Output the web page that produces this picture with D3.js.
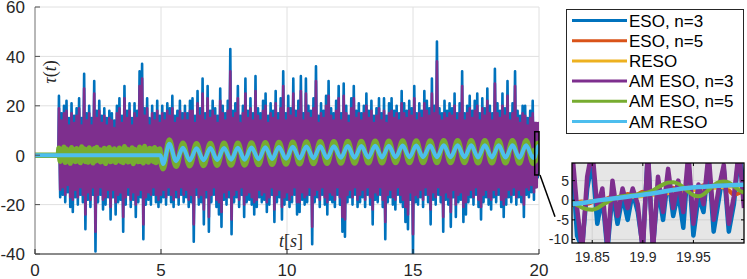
<!DOCTYPE html>
<html>
<head>
<meta charset="utf-8">
<script src="https://cdn.jsdelivr.net/npm/d3@7"></script>
<style>
  body { margin: 0; background: #fff; }
  svg { display: block; font-family: "Liberation Sans", Arial, sans-serif; }
</style>
</head>
<body>
<div id="chart"></div>
<script>
// Observer torques tau(t), main view 0..20 s plus zoom on 19.83..20 s

const seriesNames = ['ESO, n=3', 'ESO, n=5', 'RESO', 'AM ESO, n=3', 'AM ESO, n=5', 'AM RESO'];
const seriesColors = ['#0072BD', '#D95319', '#EDB120', '#7E2F8E', '#77AC30', '#4DBEEE'];

const xTicks = [0, 5, 10, 15, 20];
const yTicks = [-40, -20, 0, 20, 40, 60];
const insetXTicks = [19.85, 19.9, 19.95];
const insetYTicks = [-10, -5, 0, 5];

// noise starts at ~0.93 s; peaks (hi) at t, troughs (lo) at t + 0.05
const noiseOnset = 0.93;
const noiseStart = 0.95;
const noiseStep = 0.1;

const blueHi = [
  24, 17, 20, 22, 15, 21, 16, 19, 23, 15,
  33, 17, 20, 15, 30, 18, 22, 16, 19, 15,
  18, 17, 14, 20, 23, 16, 28, 18, 21, 15,
  21, 18, 34, 37, 19, 23, 15, 20, 17, 22,
  16, 20, 17, 21, 19, 24, 16, 18, 22, 17,
  20, 17, 22, 23, 16, 26, 19, 31, 17, 28,
  18, 22, 19, 16, 27, 20, 17, 22, 43, 18,
  21, 28, 16, 20, 31, 18, 23, 17, 32, 19,
  17, 22, 25, 16, 21, 18, 26, 17, 23, 34,
  17, 24, 19, 31, 18, 22, 32, 17, 31, 20,
  18, 23, 36, 16, 21, 18, 24, 30, 19, 17,
  22, 28, 17, 29, 20, 16, 23, 28, 18, 21,
  17, 20, 25, 18, 22, 16, 19, 23, 17, 23,
  16, 21, 23, 18, 20, 17, 26, 21, 18, 22,
  19, 28, 17, 21, 18, 26, 22, 19, 31, 20,
  46, 19, 17, 22, 18, 21, 19, 25, 17, 21,
  34, 17, 20, 24, 18, 22, 25, 17, 23, 19,
  27, 20, 17, 35, 21, 18, 25, 19, 30, 17,
  21, 34, 18, 16, 20, 20, 15, 18, 22
];
const blueLo = [
  -17, -16, -19, -15, -21, -23, -17, -20, -16, -19,
  -30, -18, -21, -16, -39, -19, -16, -22, -20, -17,
  -26, -17, -24, -19, -18, -31, -20, -16, -21, -18,
  -25, -19, -17, -34, -20, -18, -20, -16, -19, -21,
  -19, -17, -20, -16, -19, -21, -17, -20, -16, -19,
  -17, -21, -19, -35, -16, -20, -19, -28, -17, -31,
  -19, -16, -21, -24, -29, -18, -20, -17, -32, -19,
  -17, -21, -16, -25, -19, -18, -20, -24, -21, -17,
  -19, -18, -23, -20, -16, -27, -19, -17, -26, -20,
  -18, -21, -19, -16, -24, -23, -18, -20, -19, -16,
  -36, -19, -17, -21, -16, -20, -24, -18, -19, -21,
  -16, -20, -31, -33, -19, -17, -20, -16, -21, -19,
  -17, -21, -16, -20, -28, -18, -19, -16, -21, -34,
  -19, -17, -20, -22, -16, -19, -21, -27, -30, -18,
  -40, -19, -20, -17, -21, -16, -19, -28, -18, -20,
  -16, -19, -31, -18, -20, -29, -17, -25, -19, -18,
  -27, -24, -19, -17, -20, -16, -21, -26, -19, -17,
  -20, -22, -17, -19, -16, -21, -25, -20, -17, -19,
  -16, -20, -17, -19, -25, -16, -17, -15, -18
];
const purpleHi = [
  19, 14, 17, 18, 12, 17, 13, 16, 19, 12,
  27, 14, 17, 12, 25, 15, 18, 13, 16, 12,
  15, 14, 11, 17, 19, 13, 23, 15, 18, 12,
  17, 15, 28, 31, 16, 19, 12, 17, 14, 18,
  13, 17, 14, 18, 16, 19, 13, 15, 18, 14,
  17, 14, 18, 18, 13, 21, 16, 25, 14, 23,
  15, 18, 16, 13, 22, 17, 14, 18, 34, 15,
  17, 23, 13, 17, 25, 15, 19, 14, 26, 16,
  14, 18, 20, 13, 17, 15, 21, 14, 19, 28,
  14, 19, 16, 25, 15, 18, 26, 14, 25, 17,
  15, 19, 30, 13, 17, 15, 20, 24, 16, 14,
  18, 23, 14, 24, 17, 13, 19, 23, 15, 17,
  14, 17, 20, 15, 18, 13, 16, 19, 14, 18,
  13, 17, 18, 15, 17, 14, 21, 17, 15, 18,
  16, 23, 14, 17, 15, 21, 18, 16, 25, 17,
  38, 16, 14, 17, 15, 17, 16, 20, 14, 17,
  28, 14, 17, 19, 15, 18, 20, 14, 19, 16,
  22, 17, 14, 29, 17, 15, 20, 16, 24, 14,
  17, 28, 15, 13, 17, 16, 12, 15, 17
];
const purpleLo = [
  -14, -13, -16, -12, -17, -18, -14, -17, -13, -16,
  -24, -15, -18, -13, -31, -16, -13, -18, -17, -14,
  -21, -14, -19, -16, -15, -25, -17, -13, -18, -15,
  -20, -16, -14, -28, -17, -15, -16, -13, -16, -18,
  -16, -14, -17, -13, -16, -18, -14, -17, -13, -16,
  -14, -18, -16, -28, -13, -17, -16, -22, -14, -25,
  -16, -13, -18, -19, -23, -15, -17, -14, -26, -16,
  -14, -18, -13, -20, -16, -15, -17, -19, -18, -14,
  -16, -15, -19, -17, -13, -22, -16, -14, -21, -17,
  -15, -18, -16, -13, -19, -19, -15, -17, -16, -13,
  -29, -16, -14, -18, -13, -17, -19, -15, -16, -18,
  -13, -17, -25, -26, -16, -14, -17, -13, -18, -16,
  -14, -18, -13, -17, -22, -15, -16, -13, -18, -27,
  -16, -14, -17, -18, -13, -16, -18, -21, -24, -15,
  -32, -16, -17, -14, -18, -13, -16, -22, -15, -17,
  -13, -16, -25, -15, -17, -23, -14, -20, -16, -15,
  -21, -19, -16, -14, -17, -13, -18, -21, -16, -14,
  -17, -18, -14, -16, -13, -18, -20, -17, -14, -16,
  -13, -17, -14, -16, -20, -13, -14, -12, -15
];
const greenHi = [
  2.8, 2.0, 3.2, 2.4, 1.8, 3.0, 2.2, 2.6, 1.9, 3.3,
  2.5, 2.1, 2.9, 1.7, 2.6, 3.1, 2.2, 1.9, 2.7, 2.3,
  3.0, 2.0, 2.5, 1.8, 2.8, 2.2, 3.4, 2.4, 2.0, 2.9,
  2.3, 1.9, 3.2, 2.6, 3.5, 2.1, 2.7, 2.4, 3.0, 2.2, 2.5
];
const greenLo = [
  -2.4, -1.8, -2.9, -2.1, -3.2, -1.9, -2.6, -2.2, -3.0, -1.7,
  -2.5, -2.8, -2.0, -3.1, -2.3, -1.9, -2.7, -2.4, -3.3, -2.0,
  -2.6, -2.2, -2.9, -1.8, -2.5, -3.0, -2.1, -2.7, -2.3, -3.4,
  -2.0, -2.6, -2.4, -3.1, -2.2, -2.8, -1.9, -2.5, -3.0, -2.3, -2.6
];

// slow oscillation after 5 s: alternating troughs / peaks
const waveT = [
  5.08, 5.33, 5.60, 5.87, 6.14, 6.41, 6.69, 6.96, 7.23, 7.50,
  7.78, 8.05, 8.32, 8.59, 8.87, 9.14, 9.41, 9.68, 9.96, 10.23,
  10.50, 10.77, 11.05, 11.32, 11.59, 11.86, 12.14, 12.41, 12.68, 12.95,
  13.23, 13.50, 13.77, 14.04, 14.31, 14.59, 14.86, 15.13, 15.40, 15.68,
  15.95, 16.22, 16.49, 16.77, 17.04, 17.31, 17.58, 17.85, 18.13, 18.40,
  18.67, 18.95, 19.22, 19.49, 19.77
];
const cyanWaveV = [
  -3.6, 4.6, -2.4, 3.0, -2.1, 2.8, -2.0, 2.9, -1.9, 2.9,
  -1.8, 3.0, -1.8, 3.1, -1.6, 3.2, -1.5, 3.3, -1.4, 3.4,
  -1.3, 3.5, -1.2, 3.6, -1.1, 3.6, -1.0, 3.7, -1.0, 3.7,
  -0.9, 3.8, -0.9, 3.8, -0.8, 3.9, -0.8, 3.9, -0.8, 3.9,
  -0.8, 4.0, -0.8, 4.0, -0.8, 4.0, -0.9, 4.0, -0.9, 4.0,
  -0.9, 4.0, -1.0, 4.0, -1.1
];
const greenWaveV = [
  -5.5, 6.2, -4.5, 4.8, -4.3, 4.6, -4.2, 4.7, -4.1, 4.8,
  -4.0, 4.8, -4.0, 4.9, -3.8, 5.0, -3.7, 5.1, -3.6, 5.2,
  -3.5, 5.3, -3.4, 5.4, -3.3, 5.4, -3.2, 5.5, -3.2, 5.5,
  -3.1, 5.6, -3.1, 5.6, -3.0, 5.7, -3.0, 5.7, -3.0, 5.7,
  -3.0, 5.8, -3.0, 5.8, -3.0, 5.8, -3.1, 5.8, -3.1, 5.8,
  -3.1, 5.8, -3.2, 5.8, -3.3
];
const cyanInsetT = [19.83, 19.86, 19.90, 19.944, 20.0];
const cyanInsetV = [-0.9, 0.1, 1.4, 3.1, 3.95];

// fine samples of the last 0.2 s
const fineStart = 19.805;
const fineStep = 0.005;
const blueFine = [
  10, -12, 12, -8, 2, 11, -9, -12, 3, 10,
  -6, 1, -13, 2, -6, 1, -5, 2, -3, -12,
  12, -12, 3, -5, 6, -4, 2, -7, 10, -9,
  1, -3, 10, -8, 0, 8, -8, -1, 12, 4
];
const purpleFine = [
  8, -10, 11, -6, 4, 13, -2, -13, 6, 13,
  -2, 3, -12, 5, -4, 3, -2, 3, -1, -13,
  13, -13, 6, -3, 8, -2, 5, -3, 12, -6,
  4, -1, 12, -5, 3, 9, -6, 1, 13, -2
];
const greenFine = [
  2.0, 0.5, -0.5, 0.0, -0.5, -0.6, -1.2, -1.9, -2.3, -2.4,
  -2.0, -1.2, -0.5, 0.3, 0.8, 1.0, 1.2, 1.3, 1.5, 1.8,
  2.0, 2.5, 3.3, 4.0, 4.5, 4.6, 4.2, 3.3, 2.2, 1.3,
  1.0, 1.5, 2.6, 3.8, 4.6, 4.8, 4.5, 3.6, 2.6, 1.9
];
const orangeFine = [
  0.0, -1.0, 0.5, -0.8, -1.5, -1.2, -0.6, -0.3, -0.9, -0.5,
  0.1, -0.2, 0.5, 0.9, 0.4, 1.0, 1.6, 1.1, 1.5, 2.2,
  1.6, 2.0, 2.7, 2.1, 2.5, 3.2, 2.6, 2.9, 3.5, 2.8,
  3.0, 3.8, 3.1, 3.3, 4.0, 3.2, 2.5, 1.4, 1.8, 2.6
];
const yellowFine = [
  -1.1, -1.0, -0.9, -0.9, -0.8, -0.7, -0.6, -0.5, -0.3, -0.2,
  -0.1, 0.0, 0.2, 0.3, 0.4, 0.5, 0.7, 0.8, 0.9, 1.1,
  1.2, 1.4, 1.5, 1.7, 1.8, 2.0, 2.1, 2.3, 2.5, 2.6,
  2.8, 2.9, 3.0, 3.2, 3.3, 3.4, 3.5, 3.6, 3.7, 3.8
];

// zoom window shown in the inset / marked on the main plot
const zoomT = [19.83, 20];
const zoomY = [-8, 9.5];

// ---------- build point lists ----------
function zigzag(hi, lo, t0, step) {
  const pts = [];
  const n = Math.min(hi.length, lo.length);
  for (let i = 0; i < n; i++) {
    pts.push([t0 + i * step, hi[i]]);
    pts.push([t0 + i * step + step / 2, lo[i]]);
  }
  return pts;
}
function fine(vals) {
  return vals.map((v, k) => [fineStart + k * fineStep, v]);
}
function pairs(ts, vs) {
  const n = Math.min(ts.length, vs.length);
  return ts.slice(0, n).map((t, i) => [t, vs[i]]);
}

const quiet = [[0, 0], [noiseOnset, 0]];
const series = [
  { pts: [...quiet, ...zigzag(blueHi, blueLo, noiseStart, noiseStep), ...fine(blueFine)], curve: d3.curveLinear },
  { pts: fine(orangeFine), curve: d3.curveMonotoneX },
  { pts: fine(yellowFine), curve: d3.curveMonotoneX },
  { pts: [...quiet, ...zigzag(purpleHi, purpleLo, noiseStart, noiseStep), ...fine(purpleFine)], curve: d3.curveLinear },
  { pts: [...quiet, ...zigzag(greenHi, greenLo, noiseStart, noiseStep), ...pairs(waveT, greenWaveV), ...fine(greenFine)], curve: d3.curveMonotoneX },
  { pts: [[0, 0], [4.98, 0], ...pairs(waveT, cyanWaveV), ...pairs(cyanInsetT, cyanInsetV)], curve: d3.curveMonotoneX }
];
const mainWidths = [2.6, 2.6, 2.6, 2.6, 5.5, 4];
const insetWidths = [4.5, 4, 4, 4.5, 4, 4.5];

// ---------- svg ----------
const W = 747, H = 279;
const svg = d3.select('#chart').append('svg')
  .attr('width', W)
  .attr('height', H);

const x = d3.scaleLinear().domain([0, 20]).range([35, 539]);
const y = d3.scaleLinear().domain([-40, 60]).range([254, 7]);

const defs = svg.append('defs');
defs.append('clipPath').attr('id', 'clipMain')
  .append('rect')
  .attr('x', x(0)).attr('y', y(60))
  .attr('width', x(20) - x(0)).attr('height', y(-40) - y(60));

// grid
const grid = svg.append('g');
xTicks.filter(d => d > 0).forEach(d => {
  grid.append('line')
    .attr('x1', x(d)).attr('x2', x(d))
    .attr('y1', y(60)).attr('y2', y(-40))
    .attr('stroke', '#e0e0e0').attr('stroke-width', 1);
});
yTicks.forEach(d => {
  grid.append('line')
    .attr('x1', x(0)).attr('x2', x(20))
    .attr('y1', y(d)).attr('y2', y(d))
    .attr('stroke', '#e0e0e0').attr('stroke-width', 1);
});

// lines
const plot = svg.append('g').attr('clip-path', 'url(#clipMain)');
series.forEach((s, i) => {
  const line = d3.line().x(d => x(d[0])).y(d => y(d[1])).curve(s.curve);
  plot.append('path')
    .datum(s.pts)
    .attr('fill', 'none')
    .attr('stroke', seriesColors[i])
    .attr('stroke-width', mainWidths[i])
    .attr('stroke-linejoin', 'round')
    .attr('d', line);
});

// axes
svg.append('line')
  .attr('x1', x(0)).attr('x2', x(0)).attr('y1', y(60)).attr('y2', y(-40))
  .attr('stroke', '#707070').attr('stroke-width', 1);
svg.append('line')
  .attr('x1', x(0)).attr('x2', x(20)).attr('y1', y(-40)).attr('y2', y(-40))
  .attr('stroke', '#262626').attr('stroke-width', 1.2);

xTicks.forEach(d => {
  svg.append('line')
    .attr('x1', x(d)).attr('x2', x(d))
    .attr('y1', y(-40)).attr('y2', y(-40) - 5)
    .attr('stroke', '#262626');
  svg.append('text')
    .attr('x', x(d)).attr('y', 276)
    .attr('text-anchor', 'middle')
    .attr('font-size', '17px')
    .attr('fill', '#262626')
    .text(String(d));
});
yTicks.forEach(d => {
  svg.append('line')
    .attr('x1', x(0)).attr('x2', x(0) + 5)
    .attr('y1', y(d)).attr('y2', y(d))
    .attr('stroke', '#505050');
  svg.append('text')
    .attr('x', 25).attr('y', y(d))
    .attr('dy', '0.38em')
    .attr('text-anchor', 'end')
    .attr('font-size', '17px')
    .attr('fill', '#262626')
    .text(String(d));
});

// axis labels (LaTeX style)
const yLab = svg.append('text')
  .attr('transform', 'translate(56,72) rotate(-90)')
  .attr('text-anchor', 'middle')
  .attr('font-family', '"Liberation Serif", "DejaVu Serif", serif')
  .attr('font-size', '18px')
  .attr('fill', '#262626');
yLab.append('tspan').attr('font-style', 'italic').text('τ');
yLab.append('tspan').text('(');
yLab.append('tspan').attr('font-style', 'italic').text('t');
yLab.append('tspan').text(')');

const xLab = svg.append('text')
  .attr('x', 291).attr('y', 247)
  .attr('text-anchor', 'middle')
  .attr('font-family', '"Liberation Serif", "DejaVu Serif", serif')
  .attr('font-size', '18px')
  .attr('fill', '#262626');
xLab.append('tspan').attr('font-style', 'italic').text('t');
xLab.append('tspan').text('[');
xLab.append('tspan').attr('font-style', 'italic').text('s');
xLab.append('tspan').text(']');

// zoom marker on the main plot
svg.append('rect')
  .attr('x', x(zoomT[0])).attr('y', y(zoomY[1]))
  .attr('width', x(zoomT[1]) - x(zoomT[0]))
  .attr('height', y(zoomY[0]) - y(zoomY[1]))
  .attr('fill', 'none')
  .attr('stroke', '#000')
  .attr('stroke-width', 1.5);

// ---------- inset ----------
const ix = d3.scaleLinear().domain([19.83, 20]).range([572, 744]);
const iy = d3.scaleLinear().domain([-10.9, 9.5]).range([243, 163]);

svg.append('line')
  .attr('x1', x(zoomT[1]) + 1).attr('y1', y(zoomY[0]))
  .attr('x2', ix.range()[0] - 17).attr('y2', iy(-4.2))
  .attr('stroke', '#000').attr('stroke-width', 1.5);

defs.append('clipPath').attr('id', 'clipInset')
  .append('rect')
  .attr('x', 572).attr('y', 163).attr('width', 172).attr('height', 80);

svg.append('rect')
  .attr('x', 572).attr('y', 163).attr('width', 172).attr('height', 80)
  .attr('fill', '#e6e6e6');

const igrid = svg.append('g');
insetXTicks.forEach(d => {
  igrid.append('line')
    .attr('x1', ix(d)).attr('x2', ix(d)).attr('y1', 163).attr('y2', 243)
    .attr('stroke', '#d2d2d2');
});
insetYTicks.forEach(d => {
  igrid.append('line')
    .attr('x1', 572).attr('x2', 744).attr('y1', iy(d)).attr('y2', iy(d))
    .attr('stroke', '#d2d2d2');
});

const inset = svg.append('g').attr('clip-path', 'url(#clipInset)');
series.forEach((s, i) => {
  const line = d3.line().x(d => ix(d[0])).y(d => iy(d[1])).curve(s.curve);
  inset.append('path')
    .datum(s.pts)
    .attr('fill', 'none')
    .attr('stroke', seriesColors[i])
    .attr('stroke-width', insetWidths[i])
    .attr('stroke-linejoin', 'round')
    .attr('d', line);
});

svg.append('rect')
  .attr('x', 572).attr('y', 163).attr('width', 172).attr('height', 80)
  .attr('fill', 'none').attr('stroke', '#000').attr('stroke-width', 1.3);

insetXTicks.forEach(d => {
  svg.append('line').attr('x1', ix(d)).attr('x2', ix(d)).attr('y1', 243).attr('y2', 240).attr('stroke', '#000');
  svg.append('line').attr('x1', ix(d)).attr('x2', ix(d)).attr('y1', 163).attr('y2', 166).attr('stroke', '#000');
  svg.append('text')
    .attr('x', ix(d)).attr('y', 262)
    .attr('text-anchor', 'middle')
    .attr('font-size', '14px')
    .attr('fill', '#262626')
    .text(String(d));
});
insetYTicks.forEach(d => {
  svg.append('line').attr('x1', 572).attr('x2', 575).attr('y1', iy(d)).attr('y2', iy(d)).attr('stroke', '#000');
  svg.append('line').attr('x1', 744).attr('x2', 741).attr('y1', iy(d)).attr('y2', iy(d)).attr('stroke', '#000');
  svg.append('text')
    .attr('x', 569).attr('y', iy(d))
    .attr('dy', '0.35em')
    .attr('text-anchor', 'end')
    .attr('font-size', '14px')
    .attr('fill', '#262626')
    .text(String(d));
});

// ---------- legend ----------
const legend = svg.append('g');
legend.append('rect')
  .attr('x', 566.5).attr('y', 9.5).attr('width', 177).attr('height', 124)
  .attr('fill', '#fff').attr('stroke', '#262626').attr('stroke-width', 1);
seriesNames.forEach((name, i) => {
  const ly = 20.5 + i * 20.2;
  legend.append('line')
    .attr('x1', 572).attr('x2', 627).attr('y1', ly).attr('y2', ly)
    .attr('stroke', seriesColors[i]).attr('stroke-width', 3);
  legend.append('text')
    .attr('x', 629).attr('y', ly)
    .attr('dy', '0.36em')
    .attr('font-size', '17px')
    .attr('fill', '#000')
    .text(name);
});
</script>
</body>
</html>
